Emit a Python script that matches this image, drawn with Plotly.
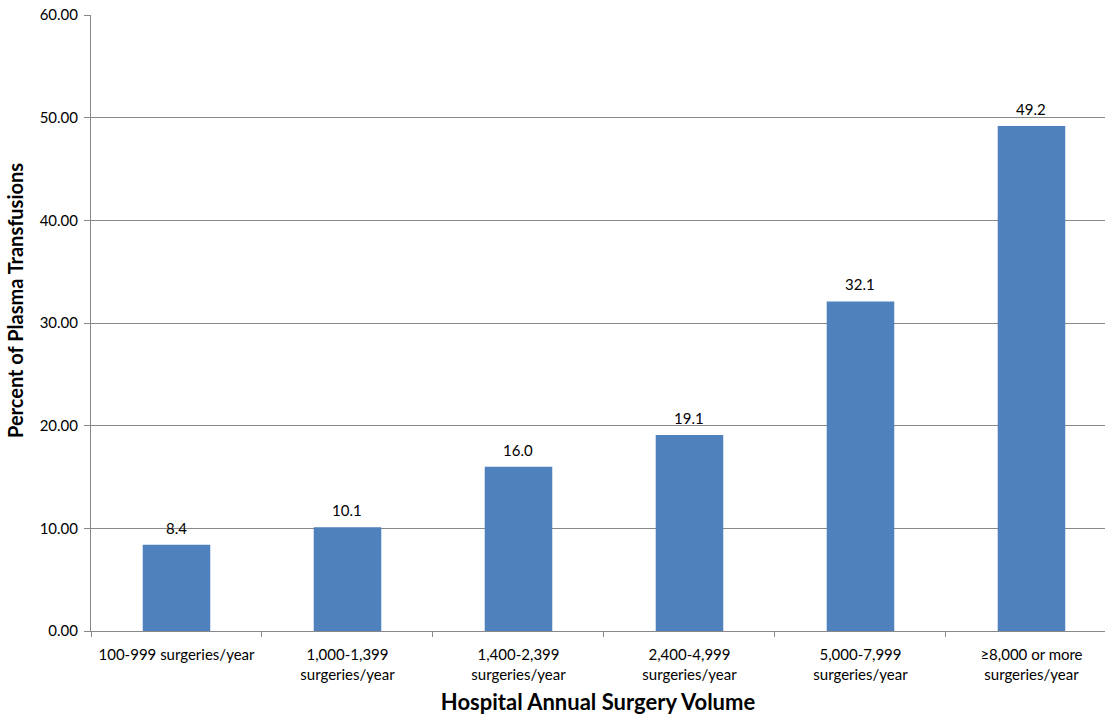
import plotly.graph_objects as go

categories = ["100-999 surgeries/year", "1,000-1,399<br>surgeries/year", "1,400-2,399<br>surgeries/year",
              "2,400-4,999<br>surgeries/year", "5,000-7,999<br>surgeries/year", "≥8,000 or more<br>surgeries/year"]
values = [8.4, 10.1, 16.0, 19.1, 32.1, 49.2]
y_ticks = [0, 10, 20, 30, 40, 50, 60]

FONT = "Lato"
fig = go.Figure(go.Bar(
    x=categories, y=values,
    marker=dict(color="#4F81BD", line=dict(width=0)),
    width=0.395, hoverinfo="skip",
))
for c, v in zip(categories, values):
    fig.add_annotation(x=c, y=v, text=f"{v:.1f}", showarrow=False, yanchor="bottom",
                       yshift=6, font=dict(family=FONT, size=15, color="#000"))
# y-axis title (placed slightly above centre, as in the original)
fig.add_annotation(text="<b>Percent of Plasma Transfusions</b>", textangle=-90, showarrow=False,
                   xref="paper", yref="paper", x=0, y=0.5, xanchor="center", yanchor="middle",
                   xshift=-76, yshift=22, font=dict(family=FONT, size=20, color="#000"))
fig.update_layout(
    width=1105, height=715, plot_bgcolor="white", paper_bgcolor="white",
    margin=dict(l=91, r=0, t=15, b=84, autoexpand=False), showlegend=False,
    font=dict(family=FONT, size=15, color="#000"),
)
fig.update_xaxes(
    automargin=False, range=[-0.5, 5.43],
    showline=True, linecolor="#888", linewidth=1, ticks="outside", tickson="boundaries",
    ticklen=5, tickcolor="#888", showgrid=False, ticklabelstandoff=10,
    tickfont=dict(family=FONT, size=15),
    title=dict(text="<b>Hospital Annual Surgery Volume</b>", font=dict(family=FONT, size=22), standoff=14),
)
fig.update_yaxes(
    automargin=False, ticklabeloverflow="allow", ticklabelstandoff=3,
    range=[0, 60], tickvals=y_ticks, ticktext=[f"{v:.2f}" for v in y_ticks],
    showline=True, linecolor="#888", linewidth=1, ticks="outside", ticklen=6, tickcolor="#888",
    showgrid=True, gridcolor="#888", gridwidth=1, zeroline=False,
    tickfont=dict(family=FONT, size=15),
)
fig.write_html("out.html", config={"displayModeBar": False},
               post_script="document.body.style.margin='0';document.body.style.overflow='hidden';")
